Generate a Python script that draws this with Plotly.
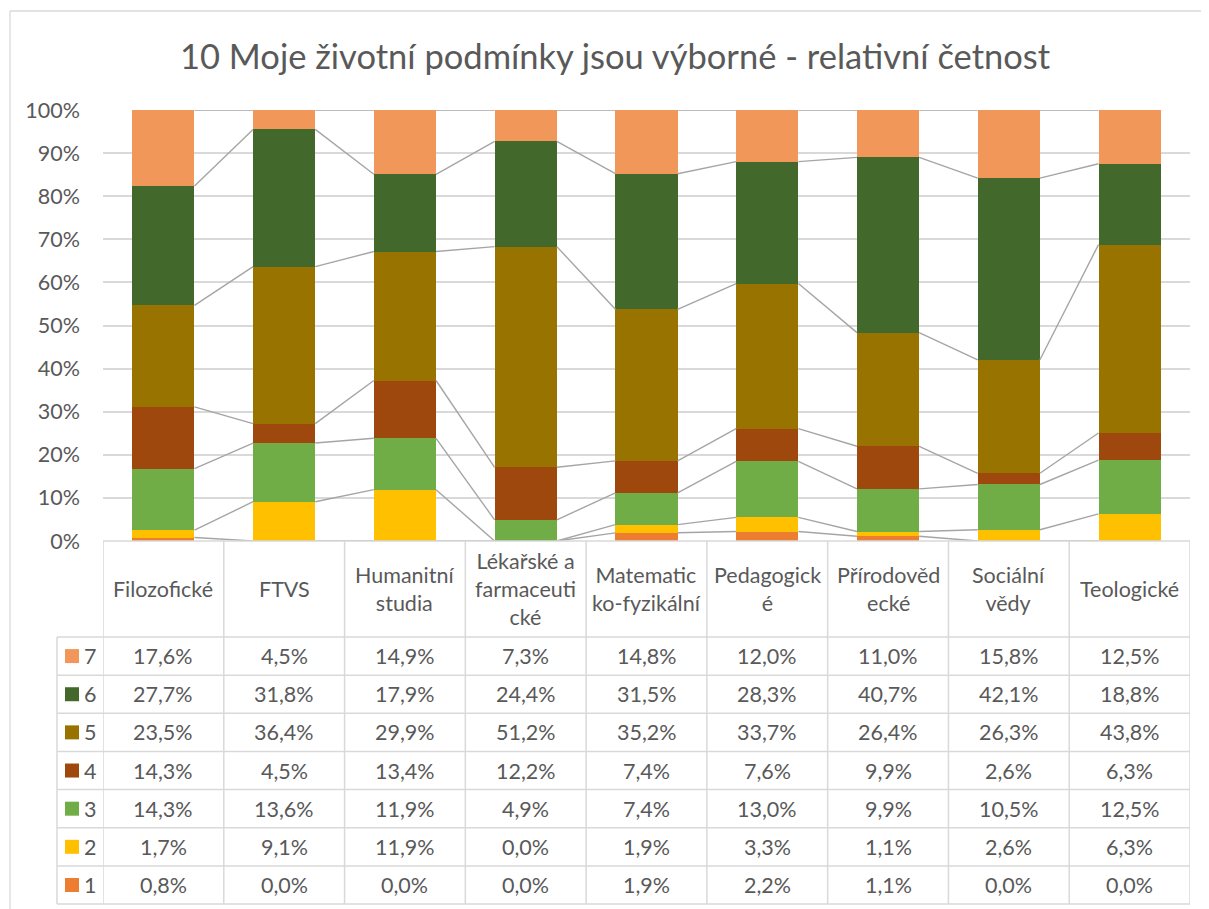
import numpy as np
import plotly.graph_objects as go

W, H = 1201, 901      # figure size (page body margin of 8px added by browser)
OFF = 8               # body margin offset

categories = ["Filozofické", "FTVS", "Humanitní studia", "Lékařské a farmaceutické",
              "Matematicko-fyzikální", "Pedagogické", "Přírodovědecké",
              "Sociální vědy", "Teologické"]
category_labels = ["Filozofické", "FTVS", "Humanitní<br>studia",
                   "Lékařské a<br>farmaceuti<br>cké", "Matematic<br>ko-fyzikální",
                   "Pedagogick<br>é", "Přírodověd<br>ecké", "Sociální<br>vědy",
                   "Teologické"]
series_names = ["1", "2", "3", "4", "5", "6", "7"]
s1 = [0.8, 0.0, 0.0, 0.0, 1.9, 2.2, 1.1, 0.0, 0.0]
s2 = [1.7, 9.1, 11.9, 0.0, 1.9, 3.3, 1.1, 2.6, 6.3]
s3 = [14.3, 13.6, 11.9, 4.9, 7.4, 13.0, 9.9, 10.5, 12.5]
s4 = [14.3, 4.5, 13.4, 12.2, 7.4, 7.6, 9.9, 2.6, 6.3]
s5 = [23.5, 36.4, 29.9, 51.2, 35.2, 33.7, 26.4, 26.3, 43.8]
s6 = [27.7, 31.8, 17.9, 24.4, 31.5, 28.3, 40.7, 42.1, 18.8]
s7 = [17.6, 4.5, 14.9, 7.3, 14.8, 12.0, 11.0, 15.8, 12.5]
series_values = [s1, s2, s3, s4, s5, s6, s7]
colors = ["#ED7D31", "#FFC000", "#70AD47", "#9E480E", "#997300", "#43682B", "#F1975A"]

FONT = "Lato, Carlito, Calibri, sans-serif"
TXT = "#595959"
GRID = "#D9D9D9"
FS = 21.5

# layout geometry (screen pixels of the reference)
plot_l, plot_r = 103, 1190
plot_t, plot_b = 110, 541
leg_l = 57
row_top = 637
row_h = 38.15
table_bottom = row_top + 7 * row_h

def px(x):
    return (x - OFF) / W

def py(y):
    return 1 - (y - OFF) / H

bar_w = 0.515
n = len(categories)
xs = np.arange(n)

fig = go.Figure()

vals = np.array(series_values, dtype=float)
frac = vals / vals.sum(axis=0)
cum = np.cumsum(frac, axis=0)

# series lines (Excel style)
for k in range(len(series_names)):
    lx, ly = [], []
    for i in range(n - 1):
        lx += [xs[i] + bar_w / 2, xs[i + 1] - bar_w / 2, None]
        ly += [cum[k, i], cum[k, i + 1], None]
    fig.add_trace(go.Scatter(x=lx, y=ly, mode="lines",
                             line=dict(color="#A5A5A5", width=1.4),
                             showlegend=False, hoverinfo="skip"))

for k, name in enumerate(series_names):
    fig.add_trace(go.Bar(x=xs, y=series_values[k], name=name, width=bar_w,
                         marker=dict(color=colors[k], line=dict(width=0)),
                         showlegend=False))

shapes = []
# outer chart frame (only top and left edges are visible in the picture)
shapes.append(dict(type="line", xref="paper", yref="paper",
                   x0=px(10), x1=1.0, y0=py(11), y1=py(11),
                   line=dict(color=GRID, width=1.3), layer="below"))
shapes.append(dict(type="line", xref="paper", yref="paper",
                   x0=px(10), x1=px(10), y0=py(11), y1=0.0,
                   line=dict(color=GRID, width=1.3), layer="below"))

tb = py(table_bottom)
shapes.append(dict(type="line", xref="paper", yref="paper", x0=px(plot_l), x1=px(plot_r),
                   y0=py(plot_b), y1=py(plot_b), line=dict(color=GRID, width=1.5)))
for i in range(n + 1):
    shapes.append(dict(type="line", xref="x", yref="paper", x0=i - 0.5, x1=i - 0.5,
                       y0=py(plot_b), y1=tb, line=dict(color=GRID, width=1.5)))
shapes.append(dict(type="line", xref="paper", yref="paper", x0=px(leg_l), x1=px(leg_l),
                   y0=py(row_top), y1=tb, line=dict(color=GRID, width=1.5)))
for r in range(8):
    yy = py(row_top + r * row_h)
    shapes.append(dict(type="line", xref="paper", yref="paper", x0=px(leg_l), x1=px(plot_r),
                       y0=yy, y1=yy, line=dict(color=GRID, width=1.5)))

annotations = []
annotations.append(dict(text="10 Moje životní podmínky jsou výborné - relativní četnost",
                        xref="paper", yref="paper", x=px(615), y=py(55),
                        xanchor="center", yanchor="middle", showarrow=False,
                        font=dict(family=FONT, size=34.5, color=TXT)))
for i, lab in enumerate(category_labels):
    annotations.append(dict(text=lab, xref="x", yref="paper", x=xs[i], y=py(589),
                            xanchor="center", yanchor="middle", showarrow=False,
                            font=dict(family=FONT, size=FS, color=TXT)))
for r, k in enumerate(range(len(series_names) - 1, -1, -1)):
    yc = py(row_top + (r + 0.5) * row_h)
    shapes.append(dict(type="rect", xref="paper", yref="paper",
                       x0=px(65), x1=px(79), y0=yc - 7 / H, y1=yc + 7 / H,
                       fillcolor=colors[k], line=dict(width=0)))
    annotations.append(dict(text=series_names[k], xref="paper", yref="paper", x=px(82), y=yc,
                            xanchor="left", yanchor="middle", showarrow=False,
                            font=dict(family=FONT, size=FS, color=TXT)))
    for i in range(n):
        txt = f"{series_values[k][i]:.1f}%".replace(".", ",")
        annotations.append(dict(text=txt, xref="x", yref="paper", x=xs[i], y=yc,
                                xanchor="center", yanchor="middle", showarrow=False,
                                font=dict(family=FONT, size=FS, color=TXT)))

fig.update_layout(
    width=W, height=H,
    margin=dict(l=0, r=0, t=0, b=0, pad=0, autoexpand=False),
    paper_bgcolor="white", plot_bgcolor="white",
    barmode="stack", barnorm="fraction", bargap=0,
    xaxis=dict(domain=[px(plot_l), px(plot_r)], range=[-0.5, n - 0.5],
               showticklabels=False, showgrid=False, zeroline=False, showline=False,
               automargin=False, fixedrange=True),
    yaxis=dict(domain=[py(plot_b), py(plot_t)], range=[0, 1], dtick=0.1,
               tickformat=".0%", showgrid=True, gridcolor=GRID, gridwidth=1.5,
               zeroline=False, showline=False, ticks="", automargin=False,
               ticklabelstandoff=22,
               tickfont=dict(family=FONT, size=FS, color=TXT)),
    shapes=shapes, annotations=annotations,
    font=dict(family=FONT, color=TXT),
)

fig.write_html("out.html")
